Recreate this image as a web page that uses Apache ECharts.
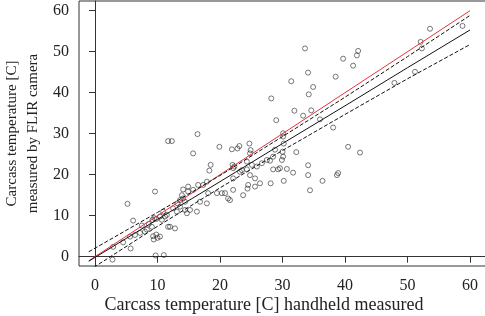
<!DOCTYPE html>
<html>
<head>
<meta charset="utf-8">
<script src="https://cdn.jsdelivr.net/npm/echarts@6/dist/echarts.min.js"></script>
<style>
  html, body { margin: 0; padding: 0; background: #fff; }
  #scatter { width: 485px; height: 316px; }
</style>
</head>
<body>
<div id="scatter"></div>
<script>
// handheld (x) vs FLIR camera (y) carcass temperatures
var points = [
    [2.8,-0.7],[2.9,2.4],[4.5,3.5],[5.6,4.9],[5.7,2.0],[5.2,12.9],[6.1,8.8],[6.4,5.3],
    [7.2,5.8],[8.0,6.1],[8.3,6.6],[9.1,7.3],[9.2,9.0],[9.5,9.4],[9.8,9.2],[9.3,5.0],
    [9.4,4.2],[9.8,5.4],[10.0,4.6],[9.6,15.9],[9.7,0.3],[11.0,0.4],[10.4,9.8],[11.2,9.8],
    [11.7,7.3],[10.7,9.0],[10.9,11.0],[11.5,10.2],[10.4,4.9],[12.0,7.3],[12.8,6.9],[7.5,7.6],
    [8.6,8.0],[11.7,28.2],[12.3,28.2],[16.4,29.9],[15.7,25.2],[19.9,26.8],[21.9,26.2],[22.8,26.4],
    [23.1,27.0],[18.5,22.4],[18.3,21.0],[22.0,22.4],[22.1,21.6],[22.3,22.0],[23.5,21.1],[17.9,18.3],
    [16.5,17.5],[15.7,16.3],[14.9,15.9],[14.1,16.4],[13.9,15.0],[14.1,14.2],[13.6,13.8],[14.4,13.4],
    [18.1,15.5],[19.5,15.5],[20.3,15.5],[21.3,14.2],[21.6,13.8],[22.1,16.3],[23.7,15.0],[17.9,13.0],
    [16.8,13.4],[13.6,12.2],[14.4,11.4],[15.2,11.4],[16.3,11.0],[14.7,10.6],[13.1,11.0],[12.5,11.8],
    [22.1,19.1],[20.8,15.5],[17.3,17.5],[14.9,17.1],[13.2,13.0],[24.7,27.6],[24.9,26.0],[24.3,23.2],
    [25.1,22.4],[25.9,22.0],[26.7,22.8],[27.5,23.6],[28.5,24.4],[28.0,23.4],[29.9,23.6],[29.6,21.6],
    [28.5,21.3],[29.3,21.3],[30.7,21.4],[31.7,20.5],[34.1,22.3],[34.1,19.9],[36.4,18.5],[30.2,18.5],
    [28.1,17.9],[26.4,17.9],[25.6,17.1],[24.4,16.6],[24.5,17.5],[24.8,19.9],[34.4,16.2],[25.6,19.1],
    [24.3,21.3],[23.2,20.7],[31.4,42.8],[34.9,41.4],[34.2,39.6],[28.2,38.6],[31.9,35.6],[33.3,34.4],
    [34.6,35.7],[29.0,33.3],[30.1,30.1],[30.1,29.3],[30.2,27.6],[28.8,26.1],[30.0,25.6],[32.2,25.5],
    [33.6,50.8],[34.1,44.9],[30.1,24.4],[36.0,33.5],[24.8,25.2],[39.7,48.3],[42.1,50.2],[41.9,49.1],
    [41.3,46.6],[38.5,43.9],[38.1,31.5],[40.5,26.8],[42.4,25.4],[38.7,19.9],[38.9,20.4],[47.9,42.4],
    [51.2,45.1],[52.1,52.4],[52.3,50.8],[53.6,55.6],[58.8,56.3]
];

// identity line (red), fitted line and its band
var identityLine = [[-1,-1],[60,60]];
var fitLine = [[-1,-1.1],[10,9.1],[20,18.3],[30,27.6],[40,36.8],[50,46.1],[60,55.3]];
var upperBand = [[-1,1.2],[10,10.8],[20,19.8],[30,29.3],[40,38.9],[50,48.8],[60,58.85]];
var lowerBand = [[-1,-3.4],[10,7.4],[20,16.8],[30,25.9],[40,34.7],[50,43.4],[60,51.75]];

var xTicks = [0,10,20,30,40,50,60];
var yTicks = [0,10,20,30,40,50,60];

var chart = echarts.init(document.getElementById('scatter'));
var serif = 'Liberation Serif';

function axisBase(ticks) {
    return {
        type: 'value',
        nameLocation: 'middle',
        nameMoveOverlap: false,
        nameTextStyle: { fontFamily: serif, fontSize: 16, color: '#222', lineHeight: 21 },
        axisLine: { show: true, lineStyle: { color: '#333', width: 1 } },
        axisTick: { show: true, inside: false, length: 6, customValues: ticks, lineStyle: { color: '#333' } },
        axisLabel: { customValues: ticks, fontFamily: serif, fontSize: 16, color: '#222' },
        splitLine: { show: false }
    };
}

var xAxis = axisBase(xTicks);
xAxis.min = -2.56;
xAxis.max = 62.72;
xAxis.name = 'Carcass temperature [C] handheld measured';
xAxis.nameGap = 29;
xAxis.nameTextStyle.fontSize = 18;
xAxis.nameTextStyle.padding = [0, 38, 0, 0];
xAxis.axisLabel.margin = 12;

var yAxis = axisBase(yTicks);
yAxis.min = -2.27;
yAxis.max = 62.37;
yAxis.name = 'Carcass temperature [C]\nmeasured by FLIR camera';
yAxis.nameGap = 35;
yAxis.nameTextStyle.fontSize = 15;
yAxis.axisLabel.margin = 10;

function bandSeries(data, color, dash) {
    return {
        type: 'line',
        data: data,
        showSymbol: false,
        silent: true,
        clip: true,
        lineStyle: { color: color, width: 1, type: dash }
    };
}

var option = {
    animation: false,
    grid: {
        left: 79, right: -2, top: 1, bottom: 50,
        show: true, borderColor: '#333', borderWidth: 1,
        containLabel: false, outerBoundsMode: 'none'
    },
    xAxis: xAxis,
    yAxis: yAxis,
    series: [
        bandSeries(identityLine, '#e8323c', 'solid'),
        bandSeries(upperBand, '#111', [4, 2]),
        bandSeries(fitLine, '#111', 'solid'),
        bandSeries(lowerBand, '#111', [4, 2]),
        {
            type: 'scatter',
            data: points,
            symbol: 'circle',
            symbolSize: 5,
            itemStyle: { color: 'rgba(0,0,0,0)', borderColor: '#111', borderWidth: 0.7 }
        }
    ]
};

chart.setOption(option);
</script>
</body>
</html>
